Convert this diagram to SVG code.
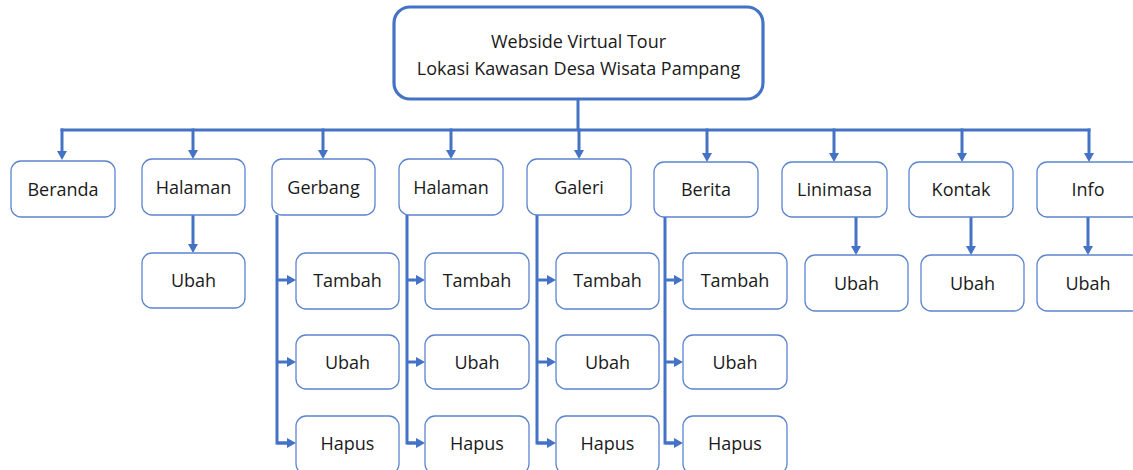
<svg xmlns="http://www.w3.org/2000/svg" width="1133" height="470" viewBox="0 0 1133 470">
<style>
.box{fill:#fff;stroke:#5B84CE;stroke-width:1.3}
.root{fill:#fff;stroke:#4472C4;stroke-width:3.2}
.t{font-family:"Open Sans","Noto Sans",sans-serif;font-size:18px;fill:#1a1a1a;text-anchor:middle}
.c{fill:none;stroke:#4472C4;stroke-width:3}
.a{fill:none;stroke:#4472C4;stroke-width:3;marker-end:url(#ah)}
</style>
<defs>
<marker id="ah" markerUnits="userSpaceOnUse" markerWidth="10" markerHeight="10" refX="0" refY="5" orient="auto">
<path d="M0,0 L9,5 L0,10 Z" fill="#4472C4"/>
</marker>
</defs>
<g id="connectors">
<path class="c" d="M578,99 V130"/>
<path class="c" d="M60.5,130 H1090.5"/>
<path class="a" d="M62,128.5 V151"/>
<path class="a" d="M193,128.5 V150"/>
<path class="a" d="M323,128.5 V150"/>
<path class="a" d="M451,128.5 V150"/>
<path class="a" d="M579,128.5 V150"/>
<path class="a" d="M707,128.5 V153"/>
<path class="a" d="M834,128.5 V153"/>
<path class="a" d="M962,128.5 V153"/>
<path class="a" d="M1089,128.5 V153"/>
<path class="a" d="M193,215 V244"/>
<path class="a" d="M856,217 V246"/>
<path class="a" d="M971,217 V246"/>
<path class="a" d="M1088,217 V246"/>
<path class="c" d="M277,215 V443 H287"/>
<path class="a" d="M277,280 H287"/>
<path class="a" d="M277,362 H287"/>
<path class="a" d="M277,443 H287"/>
<path class="c" d="M407,215 V443 H416"/>
<path class="a" d="M407,280 H416"/>
<path class="a" d="M407,362 H416"/>
<path class="a" d="M407,443 H416"/>
<path class="c" d="M537,215 V443 H547"/>
<path class="a" d="M537,280 H547"/>
<path class="a" d="M537,362 H547"/>
<path class="a" d="M537,443 H547"/>
<path class="c" d="M665,217 V443 H674"/>
<path class="a" d="M665,280 H674"/>
<path class="a" d="M665,362 H674"/>
<path class="a" d="M665,443 H674"/>
</g>
<g id="root">
<rect class="root" x="394" y="7" width="369" height="92" rx="16"/>
<text class="t" x="578.5" y="48">Webside Virtual Tour</text>
<text class="t" x="578.5" y="75">Lokasi Kawasan Desa Wisata Pampang</text>
</g>
<g id="beranda"><rect class="box" x="11" y="161" width="104" height="56" rx="10"/><text class="t" x="63" y="195.5">Beranda</text></g>
<g id="halaman1"><rect class="box" x="142" y="159" width="103" height="56" rx="10"/><text class="t" x="193.5" y="193.5">Halaman</text></g>
<g id="halaman1-ubah"><rect class="box" x="142" y="253" width="103" height="55" rx="10"/><text class="t" x="193.5" y="287">Ubah</text></g>
<g id="gerbang"><rect class="box" x="272" y="159" width="103" height="56" rx="10"/><text class="t" x="323.5" y="193.5">Gerbang</text></g>
<g id="gerbang-tambah"><rect class="box" x="296" y="253" width="103" height="56" rx="10"/><text class="t" x="347.5" y="287">Tambah</text></g>
<g id="gerbang-ubah"><rect class="box" x="296" y="335" width="103" height="54" rx="10"/><text class="t" x="347.5" y="368.5">Ubah</text></g>
<g id="gerbang-hapus"><rect class="box" x="296" y="416" width="103" height="58" rx="10"/><text class="t" x="347.5" y="449.5">Hapus</text></g>
<g id="halaman2"><rect class="box" x="399" y="159" width="104" height="56" rx="10"/><text class="t" x="451" y="193.5">Halaman</text></g>
<g id="halaman2-tambah"><rect class="box" x="425" y="253" width="104" height="56" rx="10"/><text class="t" x="477" y="287">Tambah</text></g>
<g id="halaman2-ubah"><rect class="box" x="425" y="335" width="104" height="54" rx="10"/><text class="t" x="477" y="368.5">Ubah</text></g>
<g id="halaman2-hapus"><rect class="box" x="425" y="416" width="104" height="58" rx="10"/><text class="t" x="477" y="449.5">Hapus</text></g>
<g id="galeri"><rect class="box" x="527" y="159" width="104" height="56" rx="10"/><text class="t" x="579" y="193.5">Galeri</text></g>
<g id="galeri-tambah"><rect class="box" x="556" y="253" width="103" height="56" rx="10"/><text class="t" x="607.5" y="287">Tambah</text></g>
<g id="galeri-ubah"><rect class="box" x="556" y="335" width="103" height="54" rx="10"/><text class="t" x="607.5" y="368.5">Ubah</text></g>
<g id="galeri-hapus"><rect class="box" x="556" y="416" width="103" height="58" rx="10"/><text class="t" x="607.5" y="449.5">Hapus</text></g>
<g id="berita"><rect class="box" x="654" y="162" width="104" height="55" rx="10"/><text class="t" x="706" y="195.5">Berita</text></g>
<g id="berita-tambah"><rect class="box" x="683" y="253" width="104" height="56" rx="10"/><text class="t" x="735" y="287">Tambah</text></g>
<g id="berita-ubah"><rect class="box" x="683" y="335" width="104" height="54" rx="10"/><text class="t" x="735" y="368.5">Ubah</text></g>
<g id="berita-hapus"><rect class="box" x="683" y="416" width="104" height="58" rx="10"/><text class="t" x="735" y="449.5">Hapus</text></g>
<g id="linimasa"><rect class="box" x="782" y="162" width="105" height="55" rx="10"/><text class="t" x="834.5" y="195.5">Linimasa</text></g>
<g id="linimasa-ubah"><rect class="box" x="805" y="255" width="103" height="56" rx="10"/><text class="t" x="856.5" y="289.5">Ubah</text></g>
<g id="kontak"><rect class="box" x="909" y="162" width="104" height="55" rx="10"/><text class="t" x="961" y="195.5">Kontak</text></g>
<g id="kontak-ubah"><rect class="box" x="921" y="255" width="103" height="56" rx="10"/><text class="t" x="972.5" y="289.5">Ubah</text></g>
<g id="info"><rect class="box" x="1037" y="162" width="104" height="55" rx="10"/><text class="t" x="1088" y="195.5">Info</text></g>
<g id="info-ubah"><rect class="box" x="1037" y="255" width="104" height="56" rx="10"/><text class="t" x="1088" y="289.5">Ubah</text></g>
</svg>
